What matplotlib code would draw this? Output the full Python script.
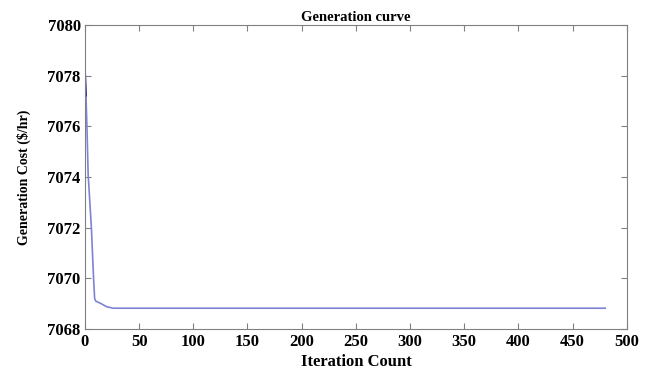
import numpy as np
import matplotlib
matplotlib.use('Agg')
import matplotlib.pyplot as plt

# convergence curve
iters = [0, 1, 2, 3, 4, 5, 6, 7, 8, 9, 10, 15, 20, 26, 480]
cost = [7078.4, 7077.2, 7075.8, 7074.1, 7073.4, 7072.7, 7072.0, 7071.0, 7070.0,
        7069.2, 7069.1, 7069.0, 7068.88, 7068.82, 7068.82]

xticks = [0, 50, 100, 150, 200, 250, 300, 350, 400, 450, 500]
yticks = [7068, 7070, 7072, 7074, 7076, 7078, 7080]

plt.rcParams['font.family'] = ['Liberation Serif', 'DejaVu Serif']

fig = plt.figure(figsize=(6.53, 3.76), dpi=100)
ax = fig.add_axes([0.130, 0.125, 0.830, 0.809])

ax.plot(iters, cost, color='#7f83d6', linewidth=1.2)
ax.plot(iters[:2], cost[:2], color='#1a1f7a', linewidth=1.2)

ax.set_xlim(0, 500)
ax.set_ylim(7068, 7080)
ax.set_xticks(xticks)
ax.set_yticks(yticks)

for s in ax.spines.values():
    s.set_color('#808080')
ax.tick_params(direction='in', top=True, right=True, color='#808080',
               length=4, labelsize=12)
ax.tick_params(axis='y', pad=3)
for lab in ax.get_xticklabels() + ax.get_yticklabels():
    lab.set_fontweight('bold')

ax.set_title('Generation curve', fontsize=10.5, fontweight='bold', pad=3)
ax.set_xlabel('Iteration Count', fontsize=12, fontweight='bold', labelpad=3)
ax.set_ylabel('Generation Cost (\\$/hr)', fontsize=10, fontweight='bold', labelpad=12)

fig.savefig('out.png', dpi=100)
